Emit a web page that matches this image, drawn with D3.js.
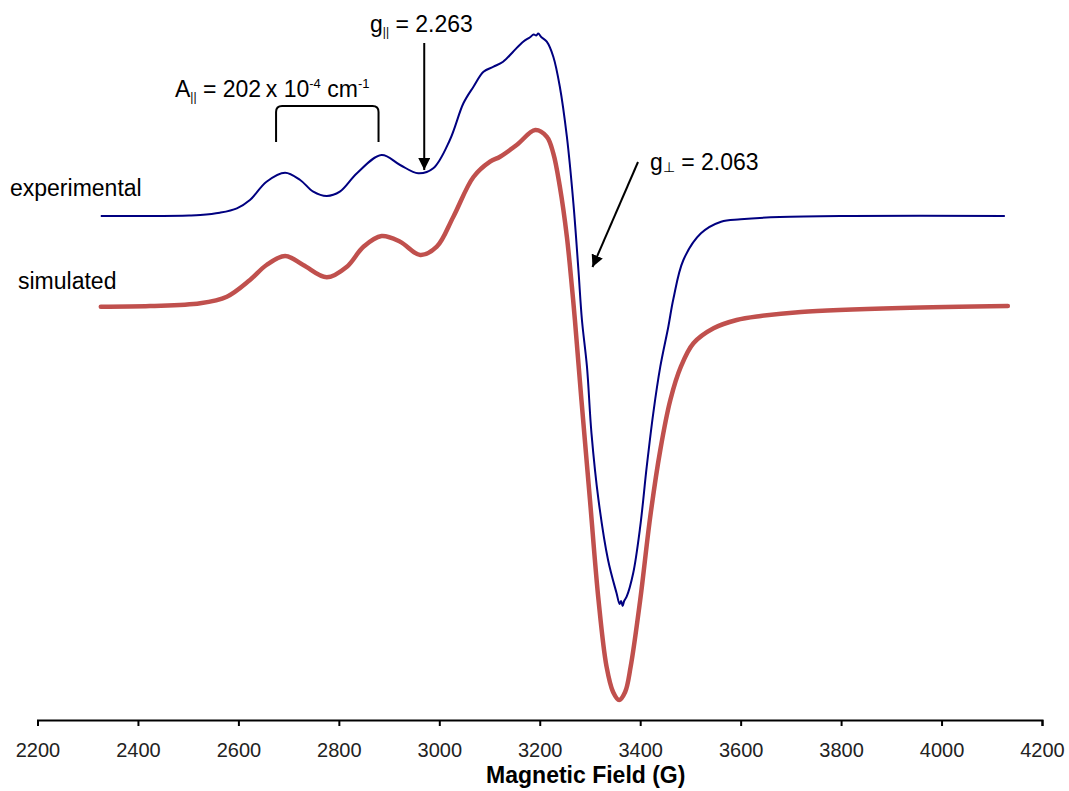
<!DOCTYPE html>
<html>
<head>
<meta charset="utf-8">
<script src="https://cdn.jsdelivr.net/npm/d3@7"></script>
<style>
  body { margin: 0; background: #fff; }
  text { font-family: Arial, "Liberation Sans", sans-serif; }
</style>
</head>
<body>
<div id="main"></div>
<script>
// values (field in G, intensity in arbitrary units, simulated trace offset down)
const fieldExp = [2326, 2424, 2502, 2524, 2563, 2597, 2623, 2656, 2693, 2723, 2749, 2776, 2802, 2836, 2885, 2922, 2958, 2988,
    3021, 3048, 3068, 3088, 3108, 3127, 3147, 3167, 3180, 3188, 3193, 3197, 3203, 3214, 3227, 3240, 3254, 3267, 3277,
    3284, 3294, 3303, 3317, 3336, 3353, 3359, 3362, 3365, 3368, 3373, 3386, 3400, 3413, 3426, 3440, 3456, 3466, 3486, 3521,
    3561, 3600, 3678, 3818, 4126]
const intensityExp = [-1, -1, -0.5, 0, 2.3, 6.7, 15, 33.3, 42.3, 35, 23.3, 19, 23.3, 41.7, 60, 50, 41.7, 46.7,
    75, 111.7, 128.3, 143.3, 148.3, 153.3, 163.3, 173.3, 177.5, 180.5, 179.5, 181.5, 178, 173.3, 158.3, 128.3, 78.3, 11.7, -55,
    -105, -151.7, -218.3, -285, -345, -378.3, -389, -386, -391, -386, -381.7, -358.3, -311.7, -251.7, -198.3, -151.7, -111.7, -84, -45, -18.3,
    -6.7, -4.3, -2, -1, -1]

const fieldSim = [2326, 2424, 2524, 2577, 2623, 2656, 2693, 2729, 2776, 2816, 2849, 2885, 2922, 2962, 2995, 3028, 3068, 3101, 3121,
    3154, 3191, 3214, 3227, 3240, 3254, 3264, 3270, 3283, 3300, 3317, 3333, 3346, 3358, 3370, 3381, 3400, 3420, 3440, 3460,
    3481, 3506, 3546, 3592, 3640, 3720, 3919, 4132]
const intensitySim = [-91.7, -91, -88.3, -81.7, -65, -50, -41, -50, -62.3, -51.7, -31.7, -21, -26.7, -40, -31.7, -1.7, 38, 53.3, 58.3,
    70, 85, 78.3, 61.7, 28.3, -21.7, -71.7, -105, -185, -285, -385, -451.7, -477, -485, -477, -451.7, -385, -301.7, -235, -185,
    -151.7, -128.3, -113.3, -105, -101, -97, -93, -91]

const fieldTicks = [2200, 2400, 2600, 2800, 3000, 3200, 3400, 3600, 3800, 4000, 4200]

const W = 1069, H = 791

const svg = d3.select("#main")
    .append("svg")
    .attr("width", W)
    .attr("height", H)

const x = d3.scaleLinear()
    .domain([2200, 4200])
    .range([37.5, 1042])

const y = d3.scaleLinear()
    .domain([-500, 200])
    .range([715, 15])

const axisY = 720

// x axis
let xAxis = svg.append("g")
    .attr("transform", `translate(0, ${axisY})`)
    .call(d3.axisBottom(x).tickValues(fieldTicks).tickSize(6).tickSizeOuter(6).tickPadding(17).tickFormat(d3.format("d")))

xAxis.select(".domain").attr("stroke", "#000").attr("stroke-width", 2)
xAxis.selectAll(".tick line").attr("stroke", "#000").attr("stroke-width", 2)
xAxis.selectAll(".tick text")
    .style("font-size", "20px")
    .style("font-family", "Arial, 'Liberation Sans', sans-serif")
    .attr("fill", "#222")

svg.append("text")
    .attr("x", (x(2200) + x(4200)) / 2 + 46)
    .attr("y", 783)
    .style("text-anchor", "middle")
    .style("font-size", "23px")
    .style("font-weight", "bold")
    .text("Magnetic Field (G)")

// traces
const line = d3.line()
    .x(d => x(d[0]))
    .y(d => y(d[1]))
    .curve(d3.curveCatmullRom.alpha(0.5))

svg.append("path")
    .datum(d3.zip(fieldSim, intensitySim))
    .attr("d", line)
    .attr("fill", "none")
    .attr("stroke", "#C0504D")
    .attr("stroke-width", 4.5)
    .attr("stroke-linecap", "round")
    .attr("stroke-linejoin", "round")

svg.append("path")
    .datum(d3.zip(fieldExp, intensityExp))
    .attr("d", line)
    .attr("fill", "none")
    .attr("stroke", "#000080")
    .attr("stroke-width", 2)
    .attr("stroke-linejoin", "round")

// trace labels
svg.append("text")
    .attr("x", 10).attr("y", 196)
    .style("font-size", "23px")
    .text("experimental")

svg.append("text")
    .attr("x", 18).attr("y", 289)
    .style("font-size", "23px")
    .text("simulated")

// arrowhead
svg.append("defs").append("marker")
    .attr("id", "arrow")
    .attr("viewBox", "0 0 10 10")
    .attr("refX", 10).attr("refY", 5)
    .attr("markerWidth", 6).attr("markerHeight", 6)
    .attr("markerUnits", "strokeWidth")
    .attr("orient", "auto")
    .append("path")
    .attr("d", "M0,0 L10,5 L0,10 z")
    .attr("fill", "#000")

// g parallel annotation
const gParField = 2970
svg.append("line")
    .attr("x1", x(gParField)).attr("x2", x(gParField))
    .attr("y1", 43).attr("y2", 170)
    .attr("stroke", "#000").attr("stroke-width", 2)
    .attr("marker-end", "url(#arrow)")

let gPar = svg.append("text")
    .attr("x", 370).attr("y", 32)
    .style("font-size", "23px")
gPar.append("tspan").text("g")
gPar.append("tspan").attr("dy", 4).style("font-size", "12px").text("||")
gPar.append("tspan").attr("dy", -4).text(" = 2.263")

// g perpendicular annotation
svg.append("line")
    .attr("x1", 638).attr("y1", 162)
    .attr("x2", x(3305)).attr("y2", 267)
    .attr("stroke", "#000").attr("stroke-width", 2)
    .attr("marker-end", "url(#arrow)")

let gPerp = svg.append("text")
    .attr("x", 650).attr("y", 170)
    .style("font-size", "23px")
gPerp.append("tspan").text("g")
gPerp.append("tspan").attr("dy", 2).style("font-size", "14px").text("\u22A5")
gPerp.append("tspan").attr("dy", -2).text(" = 2.063")

// A parallel bracket
const bx0 = x(2675), bx1 = x(2879), bTop = 106, bBot = 142
svg.append("path")
    .attr("d", `M${bx0},${bBot} L${bx0},${bTop + 6} Q${bx0},${bTop} ${bx0 + 6},${bTop} L${bx1 - 6},${bTop} Q${bx1},${bTop} ${bx1},${bTop + 6} L${bx1},${bBot}`)
    .attr("fill", "none")
    .attr("stroke", "#000")
    .attr("stroke-width", 2)

let aPar = svg.append("text")
    .attr("x", 175).attr("y", 97)
    .style("font-size", "23px")
aPar.append("tspan").text("A")
aPar.append("tspan").attr("dy", 4).style("font-size", "12px").text("||")
aPar.append("tspan").attr("dy", -4).text(" = 202\u2009x 10")
aPar.append("tspan").attr("dy", -9).style("font-size", "13px").text("-4")
aPar.append("tspan").attr("dy", 9).text(" cm")
aPar.append("tspan").attr("dy", -9).style("font-size", "13px").text("-1")
</script>
</body>
</html>
